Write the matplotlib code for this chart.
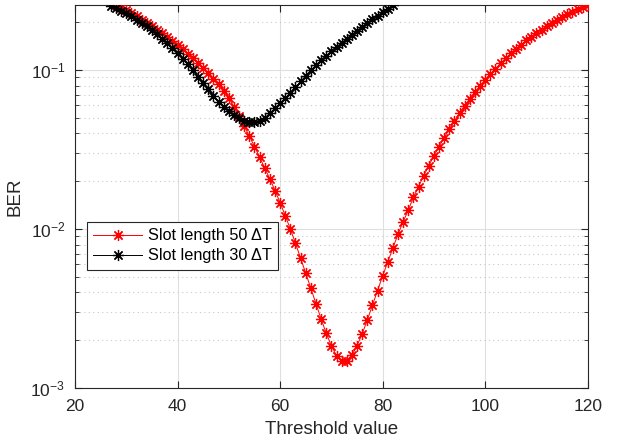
import matplotlib
matplotlib.use("Agg")
import matplotlib.pyplot as plt
from matplotlib.ticker import LogLocator, FixedLocator, NullFormatter

plt.rcParams['font.family'] = ['Liberation Sans', 'DejaVu Sans']
plt.rcParams['mathtext.fontset'] = 'custom'
plt.rcParams['mathtext.rm'] = 'Liberation Sans'
plt.rcParams['mathtext.it'] = 'Liberation Sans:italic'
plt.rcParams['mathtext.default'] = 'regular'

# Threshold values
x_slot50 = list(range(28, 121))
x_slot30 = list(range(27, 83))

# BER, slot length 50 dT
ber_slot50 = [
    0.2570, 0.2472, 0.2377, 0.2280, 0.2183, 0.2084, 0.1991, 0.1897, 0.1803, 0.1710,
    0.1618, 0.1528, 0.1439, 0.1352, 0.1268, 0.1186, 0.1107, 0.1030, 0.0957, 0.0885,
    0.0817, 0.0741, 0.0668, 0.0589, 0.0513, 0.0445, 0.0385, 0.0331, 0.0284, 0.0242,
    0.0207, 0.0175, 0.01466, 0.01216, 0.0100, 0.00813, 0.00656, 0.00528, 0.00424, 0.00339,
    0.00272, 0.00221, 0.00184, 0.00160, 0.00149, 0.00149, 0.00161, 0.00185, 0.00219, 0.00268,
    0.00331, 0.00411, 0.00508, 0.00622, 0.00762, 0.00931, 0.01112, 0.01321, 0.01585, 0.01854,
    0.02168, 0.02506, 0.02897, 0.0331, 0.0377, 0.0426, 0.0479, 0.0537, 0.0596, 0.0658,
    0.0724, 0.0794, 0.0867, 0.0944, 0.1023, 0.1104, 0.1189, 0.1274, 0.1361, 0.1449,
    0.1538, 0.1626, 0.1714, 0.1803, 0.1892, 0.1982, 0.2070, 0.2158, 0.2244, 0.2328,
    0.2410, 0.2489, 0.2564,
]

# BER, slot length 30 dT
ber_slot30 = [
    0.2541, 0.2455, 0.2366, 0.2275, 0.2183, 0.2084, 0.1986, 0.1884, 0.1782, 0.1679,
    0.1578, 0.1476, 0.1377, 0.1279, 0.1183, 0.1091, 0.1005, 0.0912, 0.0832, 0.0759,
    0.0692, 0.0635, 0.0589, 0.0550, 0.0520, 0.0498, 0.0481, 0.0471, 0.0470, 0.0481,
    0.0501, 0.0537, 0.0575, 0.0619, 0.0668, 0.0721, 0.0780, 0.0851, 0.0923, 0.1000,
    0.1076, 0.1153, 0.1233, 0.1315, 0.1400, 0.1489, 0.1581, 0.1675, 0.1774, 0.1875,
    0.1982, 0.2089, 0.2203, 0.2317, 0.2438, 0.2564,
]

series_labels = ['Slot length 50 \u0394T', 'Slot length 30 \u0394T']
x_ticks = [20, 40, 60, 80, 100, 120]

fig = plt.figure(figsize=(6.2, 4.43), dpi=100)
ax = fig.add_axes([0.121, 0.124, 0.827, 0.8646])

asterisk = (8, 2, 0)
ax.plot(x_slot50, ber_slot50, color='red', lw=0.7, marker=asterisk, ms=8,
        mew=0.9, label=series_labels[0], zorder=3)
ax.plot(x_slot30, ber_slot30, color='black', lw=0.7, marker=asterisk, ms=8,
        mew=0.9, label=series_labels[1], zorder=4)

ax.set_yscale('log')
ax.set_xlim(20, 120)
ax.set_ylim(1e-3, 0.257)
ax.xaxis.set_major_locator(FixedLocator(x_ticks))
ax.yaxis.set_major_locator(LogLocator(base=10, numticks=10))
ax.yaxis.set_minor_locator(LogLocator(base=10, subs=range(2, 10), numticks=20))
ax.yaxis.set_minor_formatter(NullFormatter())

ax.grid(True, which='major', color='#dfdfdf', lw=0.8, ls='-')
ax.grid(True, which='minor', axis='y', color='#c8c8c8', lw=0.8, ls=(0, (1, 3)))
ax.set_axisbelow(True)

for s in ax.spines.values():
    s.set_color('#262626')
    s.set_linewidth(0.8)
ax.tick_params(which='both', direction='in', top=True, right=True, colors='#262626',
               labelcolor='#262626', labelsize=12.5)
ax.tick_params(which='major', length=5)
ax.tick_params(which='minor', length=3)
ax.tick_params(axis='x', which='major', pad=8)
ax.tick_params(axis='y', which='major', pad=7)

ax.set_xlabel('Threshold value', fontsize=13.5, color='#262626', labelpad=5)
ax.set_ylabel('BER', fontsize=13.5, color='#262626', labelpad=5)

leg = ax.legend(loc='upper left', bbox_to_anchor=(0.0228, 0.434), fontsize=11.7,
                fancybox=False, framealpha=1, edgecolor='#262626',
                handlelength=3.0, borderpad=0.4, labelspacing=0.3, handletextpad=0.35,
                borderaxespad=0)
leg.get_frame().set_linewidth(0.8)

fig.savefig('out.png', dpi=100)
